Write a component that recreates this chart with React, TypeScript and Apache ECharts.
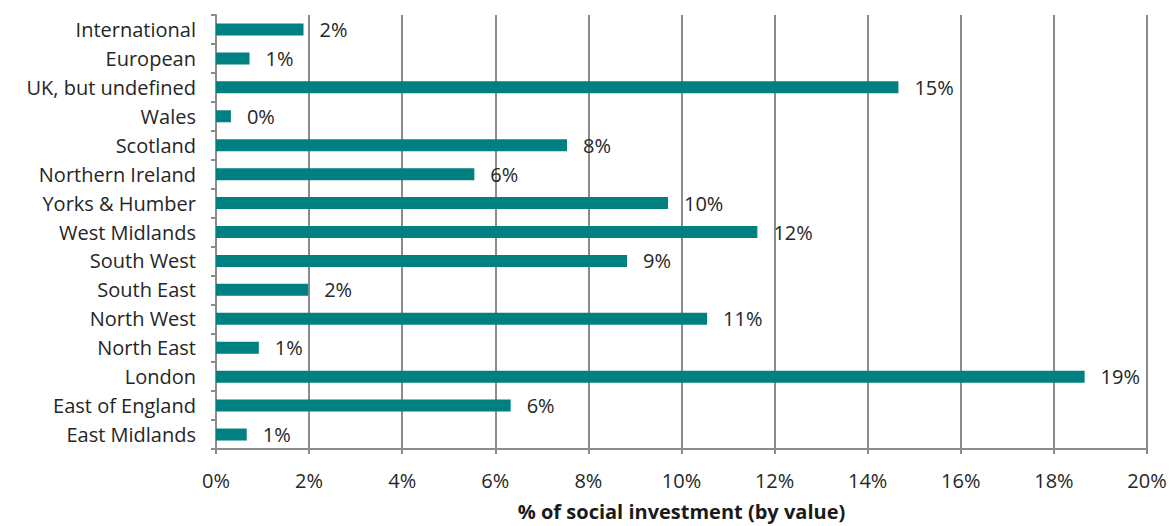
import React, { useEffect, useRef } from "react";
import * as echarts from "echarts";

const categories: string[] = [
  "International",
  "European",
  "UK, but undefined",
  "Wales",
  "Scotland",
  "Northern Ireland",
  "Yorks & Humber",
  "West Midlands",
  "South West",
  "South East",
  "North West",
  "North East",
  "London",
  "East of England",
  "East Midlands",
];

const values: number[] = [
  1.88, 0.72, 14.66, 0.32, 7.54, 5.55, 9.71, 11.63, 8.83, 1.98, 10.55, 0.92,
  18.66, 6.33, 0.66,
];

const xTicks = { min: 0, max: 20, interval: 2 };
const axisTitle = "% of social investment (by value)";

const FONT = "'Open Sans', 'DejaVu Sans', sans-serif";

export default function App() {
  const ref = useRef<HTMLDivElement>(null);
  useEffect(() => {
    if (!ref.current) return;
    const chart = echarts.init(ref.current, undefined, { renderer: "svg" });
    chart.setOption({
      animation: false,
      backgroundColor: "#ffffff",
      grid: { left: 216, right: 23, top: 15, bottom: 72, containLabel: false },
      xAxis: {
        type: "value",
        min: xTicks.min,
        max: xTicks.max,
        interval: xTicks.interval,
        name: axisTitle,
        nameLocation: "middle",
        nameGap: 52,
        nameTextStyle: {
          fontFamily: FONT,
          fontSize: 20,
          fontWeight: "bold",
          color: "#1a1a1a",
        },
        axisLine: { show: true, lineStyle: { color: "#8c8c8c", width: 2 } },
        axisTick: { show: true, length: 5, lineStyle: { color: "#8c8c8c", width: 2 } },
        axisLabel: {
          formatter: "{value}%",
          fontFamily: FONT,
          fontSize: 20,
          color: "#262626",
          margin: 21,
        },
        splitLine: { show: true, lineStyle: { color: "#8c8c8c", width: 2 } },
      },
      yAxis: {
        type: "category",
        data: categories,
        inverse: true,
        axisLine: { show: true, lineStyle: { color: "#8c8c8c", width: 2 } },
        axisTick: { show: true, length: 5, lineStyle: { color: "#8c8c8c", width: 2 } },
        axisLabel: {
          fontFamily: FONT,
          fontSize: 20,
          color: "#262626",
          margin: 20,
        },
        splitLine: { show: false },
      },
      series: [
        {
          type: "bar",
          data: values,
          barWidth: 12,
          itemStyle: { color: "#008080" },
          label: {
            show: true,
            position: "right",
            distance: 16,
            fontFamily: FONT,
            fontSize: 20,
            color: "#262626",
            formatter: (p: any) => `${Math.round(p.value)}%`,
          },
        },
      ],
    });
    return () => chart.dispose();
  }, []);
  return <div ref={ref} style={{ width: 1170, height: 526, position: "absolute", left: 0, top: 0 }} />;
}
